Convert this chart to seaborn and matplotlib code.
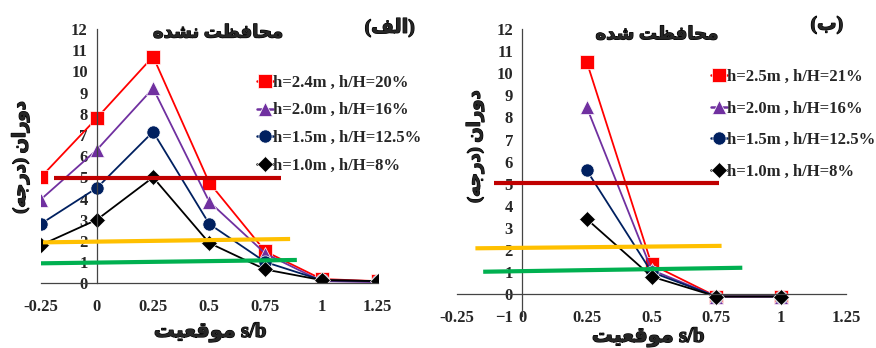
import pandas as pd
import seaborn as sns
import matplotlib.pyplot as plt
import matplotlib.patheffects as pe

# Persian presentation forms: isolated, final, initial, medial
FORMS = {
    "ا": "\ufe8d\ufe8e", "د": "\ufea9\ufeaa", "ر": "\ufead\ufeae", "و": "\ufeed\ufeee",
    "ب": "\ufe8f\ufe90\ufe91\ufe92", "ت": "\ufe95\ufe96\ufe97\ufe98",
    "ج": "\ufe9d\ufe9e\ufe9f\ufea0", "ح": "\ufea1\ufea2\ufea3\ufea4",
    "ش": "\ufeb5\ufeb6\ufeb7\ufeb8", "ظ": "\ufec5\ufec6\ufec7\ufec8",
    "ع": "\ufec9\ufeca\ufecb\ufecc", "ف": "\ufed1\ufed2\ufed3\ufed4",
    "ق": "\ufed5\ufed6\ufed7\ufed8", "ل": "\ufedd\ufede\ufedf\ufee0",
    "م": "\ufee1\ufee2\ufee3\ufee4", "ن": "\ufee5\ufee6\ufee7\ufee8",
    "ه": "\ufee9\ufeea\ufeeb\ufeec", "ی": "\ufbfc\ufbfd\ufef3\ufef4",
}


def fa(text):
    out = []
    for i, c in enumerate(text):
        f = FORMS.get(c)
        if f is None:
            out.append(c)
            continue
        prev = text[i - 1] if i > 0 else ""
        nxt = text[i + 1] if i + 1 < len(text) else ""
        jp = prev in FORMS and len(FORMS[prev]) == 4
        jn = len(f) == 4 and nxt in FORMS
        out.append(f[(1 if jp else 0) + (2 if jn else 0)])
    return "".join(reversed(out)).translate(str.maketrans("()", ")("))


# left panel: unprotected
x_left = [-0.25, 0, 0.25, 0.5, 0.75, 1, 1.25]
left_labels = ["h=2.4m , h/H=20%", "h=2.0m , h/H=16%", "h=1.5m , h/H=12.5%", "h=1.0m , h/H=8%"]
left_values = [
    [5.0, 7.8, 10.7, 4.75, 1.5, 0.2, 0.1],
    [3.95, 6.3, 9.2, 3.85, 1.4, 0.1, 0.05],
    [2.8, 4.5, 7.15, 2.8, 1.0, 0.15, 0.1],
    [1.8, 3.0, 5.0, 1.9, 0.65, 0.15, 0.1],
]
# right panel: protected
x_right = [0.25, 0.5, 0.75, 1]
right_labels = ["h=2.5m , h/H=21%", "h=2.0m , h/H=16%", "h=1.5m , h/H=12.5%", "h=1.0m , h/H=8%"]
right_values = [
    [10.5, 1.35, -0.1, -0.1],
    [8.45, 1.1, -0.1, -0.1],
    [5.6, 1.0, -0.1, -0.1],
    [3.4, 0.8, -0.1, -0.1],
]
# threshold bands drawn over the charts: (x0, x1, y0, y1)
left_bands = [(-0.19, 0.82, 4.95, 4.95), (-0.24, 0.86, 1.93, 2.09), (-0.26, 0.89, 0.94, 1.1)]
right_bands = [(-0.11, 0.76, 5.05, 5.05), (-0.18, 0.77, 2.08, 2.19), (-0.15, 0.85, 1.02, 1.2)]
band_colors = ["#C00000", "#FFC000", "#00B050"]

colors = ["#FF0000", "#7030A0", "#002060", "#000000"]
marks = ["s", "^", "o", "D"]
msizes = [10, 10, 9.5, 8]

sns.set_style("white")
plt.rcParams["font.family"] = ["Liberation Serif", "DejaVu Sans"]
plt.rcParams["font.weight"] = "bold"

fig = plt.figure(figsize=(8.76, 3.48), dpi=100)
ax1 = fig.add_axes([0.0465, 0.186, 0.3847, 0.7307])
ax2 = fig.add_axes([0.522, 0.0908, 0.4437, 0.826])


def draw(ax, xs, labels, values, bands, ylo, yticks, legend_anchor, spacing):
    rows = []
    for lab, vals in zip(labels, values):
        for xv, yv in zip(xs, vals):
            rows.append({"s/b": xv, "rot": yv, "case": lab})
    df = pd.DataFrame(rows)
    sns.lineplot(data=df, x="s/b", y="rot", hue="case", style="case",
                 hue_order=labels, style_order=labels,
                 palette=dict(zip(labels, colors)), markers=dict(zip(labels, marks)),
                 dashes=False, linewidth=1.3, markeredgewidth=0.5, ax=ax)
    for line, ms in zip(ax.lines, msizes):
        line.set_markersize(ms)
    for (x0, x1, y0, y1), c in zip(bands, band_colors):
        ax.plot([x0, x1], [y0, y1], color=c, lw=3, zorder=5, solid_capstyle="butt")
    ax.set_xlim(-0.25, 1.25)
    ax.set_ylim(ylo, 12)
    ax.set_xticks([-0.25, 0, 0.25, 0.5, 0.75, 1, 1.25])
    ax.set_xticklabels(["-0.25", "0", "0.25", "0.5", "0.75", "1", "1.25"])
    ax.set_yticks(yticks)
    ax.set_xlabel("")
    ax.set_ylabel("")
    for s in ["top", "right"]:
        ax.spines[s].set_visible(False)
    ax.spines["left"].set_position(("data", 0))
    ax.spines["bottom"].set_position(("data", 0))
    for s in ["left", "bottom"]:
        ax.spines[s].set_color("#444444")
        ax.spines[s].set_linewidth(0.9)
    ax.tick_params(direction="inout", length=7, width=0.9, color="#444444",
                   labelsize=12, pad=3)
    ax.tick_params(axis="x", pad=8)
    for t in ax.get_xticklabels() + ax.get_yticklabels():
        t.set_fontweight("bold")
    h, l = ax.get_legend_handles_labels()
    leg = ax.legend(h, l, loc="upper left", bbox_to_anchor=legend_anchor,
                    bbox_transform=fig.transFigure, frameon=False, handlelength=1.0,
                    handletextpad=0.0, labelspacing=spacing, borderaxespad=0,
                    prop={"size": 12, "weight": "bold"})
    for hd, ms in zip(leg.legend_handles, msizes):
        hd.set_markersize(ms)
        hd.set_linewidth(1.8)
    ax.patch.set_alpha(0)


draw(ax1, x_left, left_labels, left_values, left_bands, 0, range(0, 13),
     (250 / 876, 1 - 68 / 348), 0.7)
draw(ax2, x_right, right_labels, right_values, right_bands, -1, range(-1, 13),
     (704 / 876, 1 - 62 / 348), 0.95)

fs = ["Liberation Serif", "DejaVu Sans"]
bold = [pe.withStroke(linewidth=0.9, foreground="black")]
texts = [
    (0.249, 0.905, fa("محافظت نشده"), 0, 13),
    (0.75, 0.9, fa("محافظت شده"), 0, 13),
    (0.445, 0.92, fa("(الف)"), 0, 14),
    (0.944, 0.928, fa("(ب)"), 0, 14),
    (0.023, 0.547, fa("دوران (درجه)"), 90, 13),
    (0.542, 0.578, fa("دوران (درجه)"), 90, 13),
    (0.24, 0.046, fa("موقعیت") + " s/b", 0, 15),
    (0.74, 0.032, fa("موقعیت") + " s/b", 0, 15),
]
for tx, ty, s, rot, size in texts:
    fig.text(tx, ty, s, ha="center", va="center", rotation=rot, fontsize=size,
             weight="bold", family=fs, path_effects=bold)

fig.savefig("out.png", dpi=100)
